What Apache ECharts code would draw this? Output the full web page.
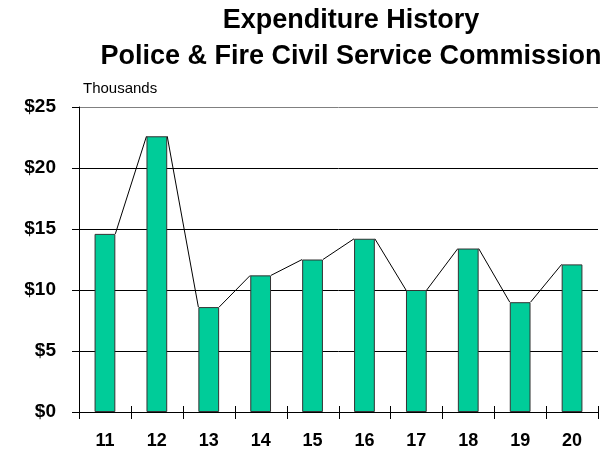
<!DOCTYPE html>
<html>
<head>
<meta charset="utf-8">
<script src="https://cdn.jsdelivr.net/npm/echarts@6/dist/echarts.min.js"></script>
<style>
  html, body { margin: 0; padding: 0; background: #fff; }
  #chart { width: 614px; height: 458px; }
</style>
</head>
<body>
<div id="chart"></div>
<script>
// Fiscal years on the category axis
const years = ['11', '12', '13', '14', '15', '16', '17', '18', '19', '20'];
// Annual expenditure, in thousands of dollars
const spending = [14.6, 22.6, 8.6, 11.2, 12.5, 14.2, 10.0, 13.4, 9.0, 12.1];
// Value axis range, step and tick values (thousands)
const yMin = 0;
const yMax = 25;
const yStep = 5;
const yTicks = [0, 5, 10, 15, 20, 25];

const FONT = 'Arial, "Liberation Sans", sans-serif';
const BAR_RATIO = 0.4;

// Each connector runs from the top-right corner of one bar to the top-left corner of the next
const connectorData = spending.slice(0, -1).map((v, i) => [i, v, spending[i + 1]]);

const chart = echarts.init(document.getElementById('chart'));

chart.setOption({
  animation: false,
  title: [
    {
      text: 'Expenditure History',
      left: 346, top: 2, textAlign: 'center',
      textStyle: { fontFamily: FONT, fontSize: 27, fontWeight: 'bold', color: '#000' }
    },
    {
      text: 'Police & Fire Civil Service Commission',
      left: 346, top: 38, textAlign: 'center',
      textStyle: { fontFamily: FONT, fontSize: 27, fontWeight: 'bold', color: '#000' }
    }
  ],
  graphic: [{
    type: 'text', left: 83, top: 81,
    style: { text: 'Thousands', font: '15px ' + FONT, fill: '#000' }
  }],
  grid: { left: 79, right: 16, top: 107, bottom: 46, containLabel: false },
  xAxis: {
    type: 'category', data: years, boundaryGap: true,
    axisLine: { show: true, lineStyle: { color: '#000', width: 1 } },
    axisTick: { show: false },
    axisLabel: { fontFamily: FONT, fontSize: 18, fontWeight: 'bold', color: '#000', margin: 20 }
  },
  yAxis: {
    type: 'value', min: yMin, max: yMax, interval: yStep,
    axisLine: { show: true, lineStyle: { color: '#000' } },
    axisTick: { show: false },
    axisLabel: {
      fontFamily: FONT, fontSize: 19, fontWeight: 'bold', color: '#000', margin: 23,
      formatter: v => '$' + v
    },
    splitLine: {
      show: true,
      lineStyle: { color: ['#000', '#000', '#000', '#000', '#000', '#808080'] }
    }
  },
  series: [
    {
      type: 'bar', data: spending, barWidth: (BAR_RATIO * 100) + '%',
      itemStyle: { color: '#00CC99', borderColor: '#333', borderWidth: 1 }
    },
    {
      type: 'custom', data: connectorData, z: 3,
      renderItem: (params, api) => {
        const i = api.value(0);
        const a = api.coord([i, api.value(1)]);
        const b = api.coord([i + 1, api.value(2)]);
        const half = api.size([1, 0])[0] * BAR_RATIO / 2;
        return {
          type: 'line',
          shape: { x1: a[0] + half, y1: a[1], x2: b[0] - half, y2: b[1] },
          style: { stroke: '#000', lineWidth: 1 }
        };
      }
    },
    {
      // crossing tick marks at the category boundaries
      type: 'custom', clip: false, silent: true, z: 4,
      data: years.map((_, i) => [i, yMin]),
      renderItem: (params, api) => {
        const i = api.value(0);
        const p = api.coord([i, yMin]);
        const bw = api.size([1, 0])[0];
        const xs = [p[0] - bw / 2];
        if (i === years.length - 1) xs.push(p[0] + bw / 2);
        const y = Math.round(p[1]);
        return {
          type: 'group',
          children: xs.map(x => ({
            type: 'line',
            shape: { x1: Math.round(x) + 0.5, y1: y - 6, x2: Math.round(x) + 0.5, y2: y + 7 },
            style: { stroke: '#000', lineWidth: 1 }
          }))
        };
      }
    },
    {
      // outside tick marks on the value axis
      type: 'custom', clip: false, silent: true, z: 4,
      data: yTicks.map(v => [0, v]),
      renderItem: (params, api) => {
        const p = api.coord([0, api.value(1)]);
        const bw = api.size([1, 0])[0];
        const x = Math.round(p[0] - bw / 2);
        const y = Math.round(p[1]) + 0.5;
        return {
          type: 'line',
          shape: { x1: x - 7, y1: y, x2: x, y2: y },
          style: { stroke: '#000', lineWidth: 1 }
        };
      }
    }
  ]
});
</script>
</body>
</html>
